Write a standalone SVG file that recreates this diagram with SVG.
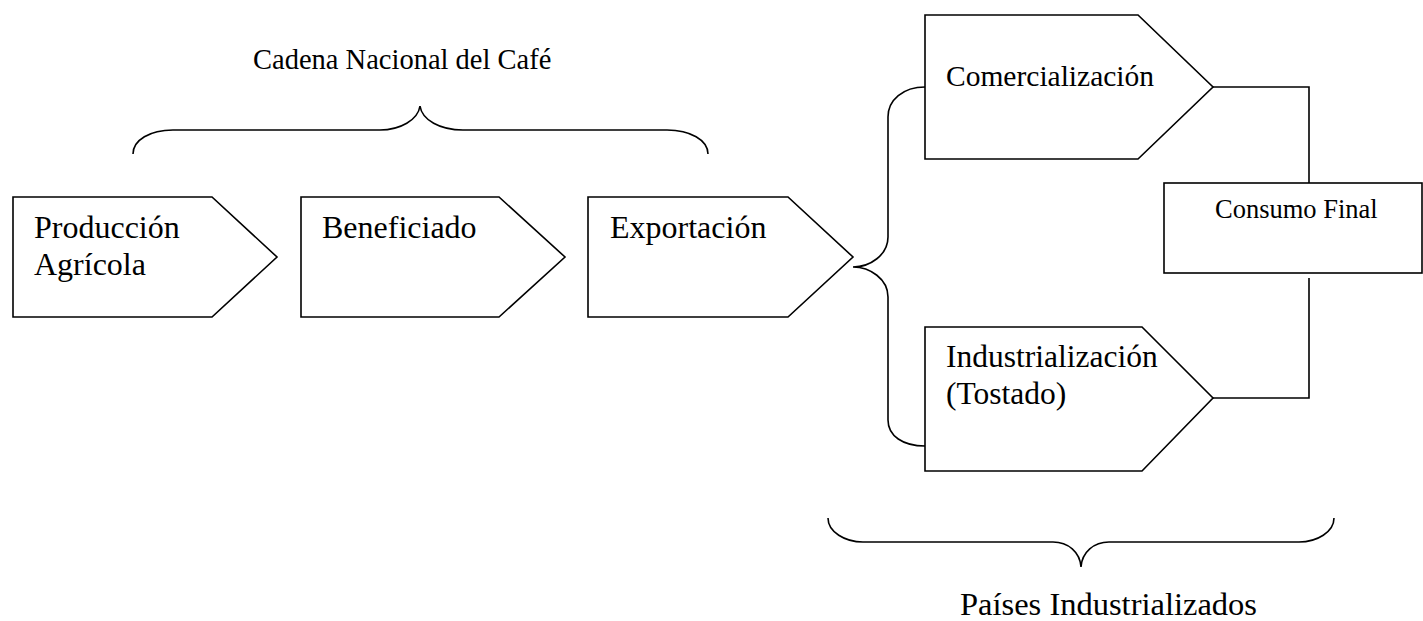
<svg xmlns="http://www.w3.org/2000/svg" width="1423" height="621" viewBox="0 0 1423 621">
<style>
.shape{fill:#fff;stroke:#000;stroke-width:1.6}
.line{fill:none;stroke:#000;stroke-width:1.6}
text{font-family:"Liberation Serif","Times New Roman",serif;fill:#000}
.big{font-size:32px}
.mid{font-size:26.5px}
</style>
<rect width="1423" height="621" fill="#fff"/>
<g id="connectors">
<path class="line" d="M133,154 C133,140 150,130 173,130 L380,130 C400,130 418,120 420,106 C422,120 440,130 463,130 L667,130 C690,130 708,140 708,154"/>
<path class="line" d="M925,87 C903,87 888,100 888,117 L888,237 C888,255 870,267 853,267 C870,267 888,279 888,297 L888,420 C888,436 903,446 925,446"/>
<path class="line" d="M828,518 C828,532 845,542 863,542 L1053,542 C1068,542 1080,552 1081,567 C1082,552 1094,542 1109,542 L1299,542 C1317,542 1334,532 1334,518"/>
<polyline class="line" points="1213,87 1309,87 1309,183"/>
<polyline class="line" points="1213,398 1309,398 1309,278"/>
</g>
<g id="label-cadena"><text x="253" y="69" font-size="28.5">Cadena Nacional del Café</text></g>
<g id="label-paises"><text x="960" y="615" font-size="32.5">Países Industrializados</text></g>
<g id="produccion">
<polygon class="shape" points="13,197 212,197 277,257 212,317 13,317"/>
<text class="big" x="34" y="238">Producción</text>
<text class="big" x="34" y="275">Agrícola</text>
</g>
<g id="beneficiado">
<polygon class="shape" points="301,197 499,197 565,257 499,317 301,317"/>
<text class="big" x="322" y="238">Beneficiado</text>
</g>
<g id="exportacion">
<polygon class="shape" points="588,197 788,197 853,257 788,317 588,317"/>
<text class="big" x="610" y="238">Exportación</text>
</g>
<g id="comercializacion">
<polygon class="shape" points="925,15 1138,15 1213,87 1138,159 925,159"/>
<text x="946" y="86" font-size="29.5">Comercialización</text>
</g>
<g id="industrializacion">
<polygon class="shape" points="925,327 1142,327 1213,398 1142,471 925,471"/>
<text x="946" y="367" font-size="31.5">Industrialización</text>
<text x="946" y="404" font-size="31.5">(Tostado)</text>
</g>
<g id="consumo">
<rect class="shape" x="1164" y="183" width="258" height="90"/>
<text class="mid" x="1215" y="218">Consumo Final</text>
</g>
</svg>
